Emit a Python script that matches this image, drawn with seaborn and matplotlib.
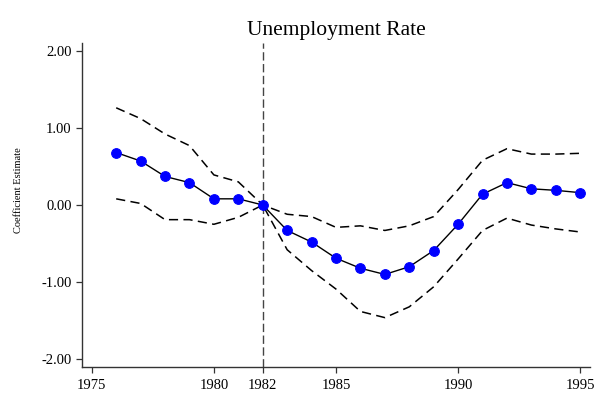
import matplotlib
matplotlib.use("Agg")
import matplotlib.pyplot as plt
import seaborn as sns
import pandas as pd

years = list(range(1976, 1996))
coef = [0.68, 0.57, 0.37, 0.29, 0.08, 0.08, 0.00, -0.33, -0.48, -0.69, -0.82, -0.90,
        -0.80, -0.59, -0.25, 0.14, 0.29, 0.21, 0.19, 0.16]
upper = [1.26, 1.12, 0.92, 0.77, 0.39, 0.30, 0.00, -0.12, -0.15, -0.29, -0.27, -0.33,
         -0.27, -0.15, 0.20, 0.58, 0.73, 0.66, 0.66, 0.67]
lower = [0.08, 0.02, -0.19, -0.19, -0.25, -0.16, 0.00, -0.58, -0.85, -1.09, -1.38, -1.46,
         -1.32, -1.06, -0.70, -0.33, -0.17, -0.26, -0.31, -0.35]

xticks = [1975, 1980, 1982, 1985, 1990, 1995]
yticks = [-2, -1, 0, 1, 2]
ytick_labels = ["-2.00", "-1.00", "0.00", "1.00", "2.00"]
event_year = 1982
title = "Unemployment Rate"
ylabel = "Coefficient Estimate"

df = pd.DataFrame({"year": years, "coef": coef, "upper": upper, "lower": lower})

sns.set_style("ticks")
plt.rcParams["font.family"] = ["Liberation Serif", "DejaVu Serif"]
plt.rcParams["text.color"] = "black"

fig = plt.figure(figsize=(6.0, 3.97), dpi=100)
ax = fig.add_axes([82 / 600, 1 - 367 / 397, (590 - 82) / 600, (367 - 43) / 397])

ax.axvline(event_year, color="#444444", lw=1.0, dashes=(6, 2.5), zorder=1)
sns.lineplot(data=df, x="year", y="upper", ax=ax, color="black", lw=1.1,
             zorder=2).lines[-1].set_dashes((6, 3.5))
sns.lineplot(data=df, x="year", y="lower", ax=ax, color="black", lw=1.1,
             zorder=2).lines[-1].set_dashes((6, 3.5))
sns.lineplot(data=df, x="year", y="coef", ax=ax, color="black", lw=1.0, zorder=3,
             marker="o", markersize=7, markerfacecolor="#0000ff",
             markeredgecolor="#0000ff")

ax.set_xlim(1974.6, 1995.4)
ax.set_ylim(-2.1, 2.1)
ax.set_xticks(xticks)
ax.set_xticklabels([str(t) for t in xticks])
ax.set_yticks(yticks)
ax.set_yticklabels(ytick_labels)
ax.tick_params(axis="both", labelsize=10.5, length=4, width=0.9, color="#333333",
               labelcolor="black", direction="out")
ax.tick_params(axis="x", pad=4.5)
for s in ["top", "right"]:
    ax.spines[s].set_visible(False)
for s in ["left", "bottom"]:
    ax.spines[s].set_color("#333333")
    ax.spines[s].set_linewidth(1.0)

ax.set_xlabel("")
ax.set_ylabel(ylabel, fontsize=7.5, color="black")
ax.yaxis.set_label_coords(-0.117, 0.545)
ax.set_title(title, fontsize=15.5, pad=6, color="black")

fig.savefig("out.png", dpi=100)
